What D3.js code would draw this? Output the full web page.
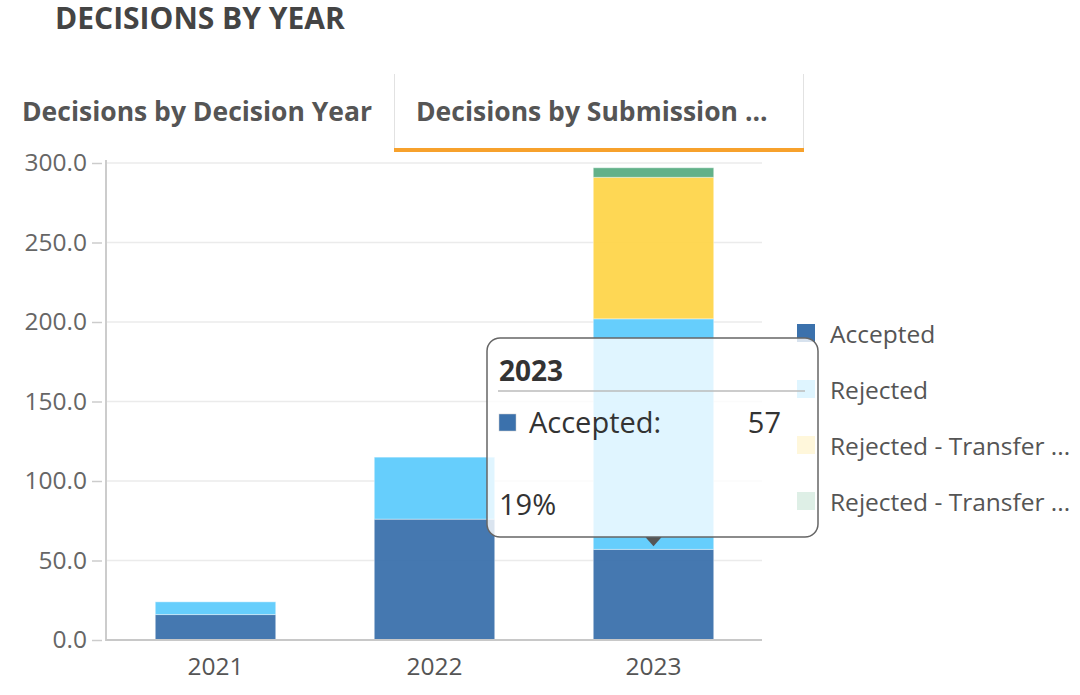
<!DOCTYPE html>
<html>
<head>
<meta charset="utf-8">
<script src="https://cdn.jsdelivr.net/npm/d3@7"></script>
<style>
  body { margin: 0; background: #fff; font-family: "Open Sans", sans-serif; }
</style>
</head>
<body>
<script>
// chart data
const years = ["2021", "2022", "2023"];
const seriesNames = ["Accepted", "Rejected", "Rejected - Transfer ...", "Rejected - Transfer ..."];
const seriesColors = ["#3b71ac", "#5ecbfc", "#fed54b", "#5aad83"];
const accepted = [16, 76, 57];
const rejected = [8, 39, 145];
const transferA = [0, 0, 89];
const transferB = [0, 0, 6];
const yTicks = [0, 50, 100, 150, 200, 250, 300];
const tabs = ["Decisions by Decision Year", "Decisions by Submission ..."];

const width = 1080, height = 695;
const svg = d3.select("body").append("svg").attr("width", width).attr("height", height);

// titre
svg.append("text").attr("x", 55).attr("y", 29)
  .attr("font-size", 30).attr("font-weight", 700).attr("fill", "#444")
  .text("DECISIONS BY YEAR");

// onglets
svg.append("text").attr("x", 22).attr("y", 121)
  .attr("font-size", 26.5).attr("font-weight", 700).attr("fill", "#555")
  .text(tabs[0]);
svg.append("line").attr("x1", 394.5).attr("x2", 394.5).attr("y1", 74).attr("y2", 150).attr("stroke", "#e2e2e2");
svg.append("line").attr("x1", 803.5).attr("x2", 803.5).attr("y1", 74).attr("y2", 150).attr("stroke", "#e2e2e2");
svg.append("rect").attr("x", 394).attr("y", 148).attr("width", 410).attr("height", 4).attr("fill", "#f7a12c");
svg.append("text").attr("x", 416).attr("y", 121)
  .attr("font-size", 26.5).attr("font-weight", 700).attr("fill", "#555")
  .text(tabs[1]);

// échelles
const x = d3.scaleBand().domain(years).range([106, 763]).paddingInner(0.45).paddingOuter(0.225);
const y = d3.scaleLinear().domain([0, 300]).range([640, 163]);

// grille
svg.append("g").selectAll("line").data(yTicks.slice(1)).enter().append("line")
  .attr("x1", 106).attr("x2", 762)
  .attr("y1", d => y(d)).attr("y2", d => y(d))
  .attr("stroke", "#ebebeb").attr("stroke-width", 1.5);

// axe y
const yAxis = svg.append("g").attr("transform", "translate(106,0)")
  .call(d3.axisLeft(y).tickValues(yTicks).tickFormat(d3.format(".1f")).tickSize(14).tickPadding(5));
yAxis.select(".domain").remove();
yAxis.selectAll(".tick line").attr("stroke", "#ccc").attr("stroke-width", 1.5).attr("x2", -4).attr("x1", -14);
yAxis.selectAll(".tick text").attr("font-size", 24.5).attr("fill", "#666").attr("font-family", "Open Sans");
svg.append("line").attr("x1", 106).attr("x2", 106).attr("y1", 160).attr("y2", 641).attr("stroke", "#ccc").attr("stroke-width", 2);

// barres empilées
const table = years.map((yr, i) => ({ year: yr, s0: accepted[i], s1: rejected[i], s2: transferA[i], s3: transferB[i] }));
const stack = d3.stack().keys(["s0", "s1", "s2", "s3"])(table);

svg.append("g").selectAll("g").data(stack).enter().append("g")
  .attr("fill", (d, i) => seriesColors[i])
  .selectAll("rect").data(d => d.filter(p => p[1] > p[0])).enter().append("rect")
  .attr("x", d => x(d.data.year))
  .attr("width", x.bandwidth())
  .attr("y", d => y(d[1]))
  .attr("height", d => y(d[0]) - y(d[1]))
  .attr("fill-opacity", 0.95)
  .attr("stroke", "#fff").attr("stroke-opacity", 0.4).attr("stroke-width", 1);

// axe x
const xAxis = svg.append("g").attr("transform", "translate(0,640)")
  .call(d3.axisBottom(x).tickSize(0).tickPadding(18));
xAxis.select(".domain").attr("stroke", "#c8c8c8").attr("stroke-width", 2).attr("d", "M106,0H762");
xAxis.selectAll(".tick text").attr("font-size", 24.5).attr("fill", "#555").attr("font-family", "Open Sans");

// légende
const legend = svg.append("g").selectAll("g").data(seriesNames).enter().append("g")
  .attr("transform", (d, i) => `translate(797,${324 + i * 56})`);
legend.append("rect").attr("width", 18).attr("height", 18).attr("fill", (d, i) => seriesColors[i]);
legend.append("text").attr("x", 33).attr("y", 19).attr("font-size", 24.5).attr("fill", "#555").text(d => d);

// infobulle
const hi = 2;
const total = accepted[hi] + rejected[hi] + transferA[hi] + transferB[hi];
const tipX = x(years[hi]) + x.bandwidth() / 2;
const tipY = y(accepted[hi]) - 3;
const tip = svg.append("g");
tip.append("rect").attr("x", 487).attr("y", 338).attr("width", 331).attr("height", 199)
  .attr("rx", 13).attr("fill", "#fff").attr("fill-opacity", 0.8)
  .attr("stroke", "#666").attr("stroke-width", 1.5);
tip.append("path")
  .attr("d", `M${tipX - 8},${tipY - 9}L${tipX + 8},${tipY - 9}L${tipX},${tipY}Z`)
  .attr("fill", "#555");
tip.append("text").attr("x", 499).attr("y", 381).attr("font-size", 28).attr("font-weight", 700).attr("fill", "#333").text(years[hi]);
tip.append("line").attr("x1", 498).attr("x2", 805).attr("y1", 391).attr("y2", 391).attr("stroke", "#bbb").attr("stroke-width", 1.5);
tip.append("rect").attr("x", 499).attr("y", 414).attr("width", 17).attr("height", 17).attr("fill", seriesColors[0]).attr("stroke", "#ccc").attr("stroke-width", 0.5);
tip.append("text").attr("x", 529).attr("y", 433).attr("font-size", 29).attr("fill", "#333").text(seriesNames[0] + ":");
tip.append("text").attr("x", 781).attr("y", 433).attr("font-size", 29).attr("fill", "#333").attr("text-anchor", "end").text(accepted[hi]);
tip.append("text").attr("x", 499).attr("y", 515).attr("font-size", 29).attr("fill", "#333").text(d3.format(".0%")(accepted[hi] / total));
</script>
</body>
</html>
